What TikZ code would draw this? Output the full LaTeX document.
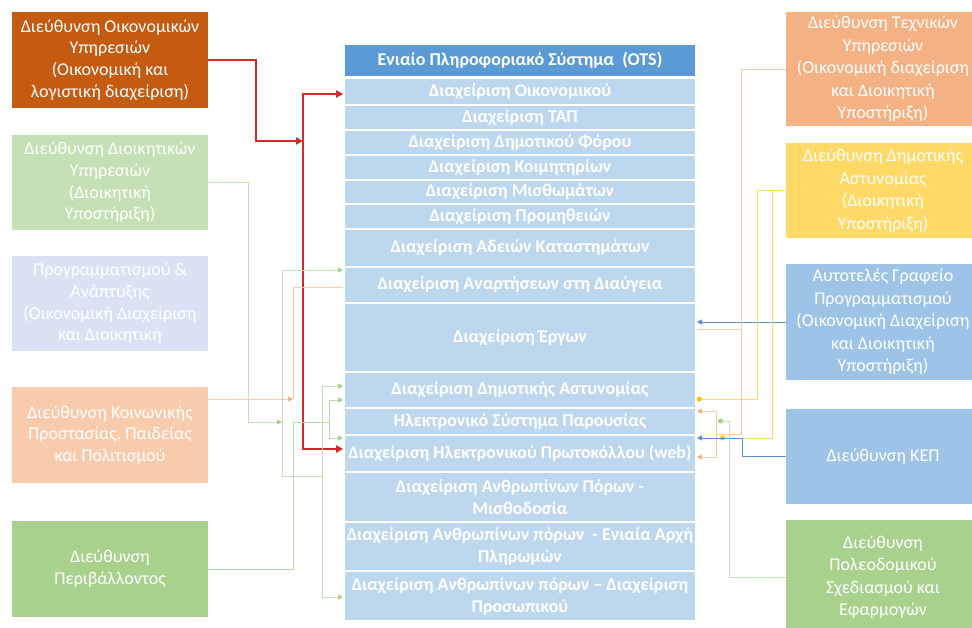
\documentclass[tikz,border=0pt]{standalone}
\usepackage{fontspec}
\setmainfont{Carlito}
\usetikzlibrary{arrows.meta,calc}
\definecolor{cDarkOr}{HTML}{C55A11}
\definecolor{cLGreen}{HTML}{C5E0B4}
\definecolor{cLBlue}{HTML}{DAE3F3}
\definecolor{cPeach}{HTML}{F8CBAD}
\definecolor{cGreen}{HTML}{A9D18E}
\definecolor{cHead}{HTML}{5B9BD5}
\definecolor{cRow}{HTML}{BDD7EE}
\definecolor{cOrange}{HTML}{F4B183}
\definecolor{cYellow}{HTML}{FFD966}
\definecolor{cBlue}{HTML}{9DC3E6}
\definecolor{cRed}{HTML}{D42A2A}
\definecolor{cBlueLn}{HTML}{5B8FD0}
\definecolor{cYellowLn}{HTML}{FFC000}
\definecolor{cPeachLn}{HTML}{F8CBAD}
\definecolor{cGrLn}{HTML}{C5E0B4}
\definecolor{cGrTip}{HTML}{A9D18E}
\tikzset{
  sbox/.style={text=white, align=center, inner sep=1pt, minimum width=196pt,
    font=\fontsize{18}{21.7}\selectfont},
  rbox/.style={text=white, align=center, inner sep=1pt, minimum width=194pt,
    font=\fontsize{18}{22.5}\selectfont},
  rowbox/.style={fill=cRow, draw=white, line width=1.6pt, text=white, align=center,
    minimum width=352pt, inner sep=0.5pt, font=\fontsize{18}{22}\selectfont\bfseries},
  smallrow/.style={font=\fontsize{17.8}{22}\selectfont\bfseries},
  redln/.style={draw=cRed, line width=1.8pt},
  redtip/.style={-{Triangle[length=7pt,width=7pt]}},
  grln/.style={draw=cGrLn, line width=1pt},
  grtip/.style={-{Triangle[length=5pt,width=5pt,color=cGrTip]}},
  peln/.style={draw=cPeachLn, line width=1pt},
  petip/.style={-{Triangle[length=5pt,width=5pt,color=cOrange]}},
  blln/.style={draw=cBlueLn, line width=1pt},
  bltip/.style={-{Triangle[length=5pt,width=5pt]}},
  yeln/.style={draw=cYellow, line width=1pt},
  yedot/.style={-{Circle[length=5pt,color=cYellowLn]}},
  grdot/.style={-{Circle[length=5pt,color=cGrTip]}},
}
\begin{document}
\begin{tikzpicture}[x=1pt,y=-1pt]
\clip (0,0) rectangle (972,627);
\useasboundingbox (0,0) rectangle (972,627);
\fill[white] (0,0) rectangle (972,627);

% left boxes
\node[sbox, fill=cDarkOr, minimum height=96pt] (L1) at (110,60)
  {Διεύθυνση Οικονομικών\\Υπηρεσιών\\(Οικονομική και\\λογιστική διαχείριση)};
\node[sbox, fill=cLGreen, minimum height=95pt] (L2) at (110,182.5)
  {Διεύθυνση Διοικητικών\\Υπηρεσιών\\(Διοικητική\\Υποστήριξη)};
\node[sbox, fill=cLBlue, minimum height=95pt] (L3) at (110,303.5)
  {Προγραμματισμού \&\\Ανάπτυξης\\(Οικονομική Διαχείριση\\και Διοικητική};
\node[sbox, fill=cPeach, minimum height=96pt] (L4) at (110,435)
  {Διεύθυνση Κοινωνικής\\Προστασίας, Παιδείας\\και Πολιτισμού};
\node[sbox, fill=cGreen, minimum height=96pt] (L5) at (110,569)
  {Διεύθυνση\\Περιβάλλοντος};

% right boxes
\node[rbox, fill=cOrange, minimum height=114pt] (RB1) at (883,69)
  {Διεύθυνση Τεχνικών\\Υπηρεσιών\\(Οικονομική διαχείριση\\και Διοικητική\\Υποστήριξη)};
\node[rbox, fill=cYellow, minimum height=95pt] (RB2) at (883,190.5)
  {Διεύθυνση Δημοτικής\\Αστυνομίας\\(Διοικητική\\Υποστήριξη)};
\node[rbox, fill=cBlue, minimum height=116pt] (RB3) at (883,322)
  {Αυτοτελές Γραφείο\\Προγραμματισμού\\(Οικονομική Διαχείριση\\και Διοικητική\\Υποστήριξη)};
\node[rbox, fill=cBlue, minimum height=95pt] (RB4) at (883,456.5)
  {Διεύθυνση ΚΕΠ};
\node[rbox, fill=cGreen, minimum height=114pt] (RB5) at (883,577)
  {Διεύθυνση\\Πολεοδομικού\\Σχεδιασμού και\\Εφαρμογών};

% central system
\node[rowbox, fill=cHead, minimum height=33pt] (R0) at (520,60.5) {Ενιαίο Πληροφοριακό Σύστημα\ \ (OTS)};
\node[rowbox, minimum height=27pt] (R1) at (520,91.5) {Διαχείριση Οικονομικού};
\node[rowbox, minimum height=25pt] (R2) at (520,117.5) {Διαχείριση ΤΑΠ};
\node[rowbox, minimum height=25pt] (R3) at (520,142.5) {Διαχείριση Δημοτικού Φόρου};
\node[rowbox, minimum height=25pt] (R4) at (520,167.5) {Διαχείριση Κοιμητηρίων};
\node[rowbox, minimum height=24pt] (R5) at (520,192) {Διαχείριση Μισθωμάτων};
\node[rowbox, minimum height=25pt] (R6) at (520,216.5) {Διαχείριση Προμηθειών};
\node[rowbox, minimum height=38pt] (R7) at (520,248) {Διαχείριση Αδειών Καταστημάτων};
\node[rowbox, minimum height=36pt] (R8) at (520,285) {Διαχείριση Αναρτήσεων στη Διαύγεια};
\node[rowbox, minimum height=69pt] (R9) at (520,337.5) {Διαχείριση Έργων};
\node[rowbox, minimum height=36pt] (R10) at (520,390) {Διαχείριση Δημοτικής Αστυνομίας};
\node[rowbox, minimum height=27pt] (R11) at (520,421.5) {Ηλεκτρονικό Σύστημα Παρουσίας};
\node[rowbox, smallrow, minimum height=37pt] (R12) at (520,453.5) {Διαχείριση Ηλεκτρονικού Πρωτοκόλλου (web)};
\node[rowbox, minimum height=50pt] (R13) at (520,497) {Διαχείριση Ανθρωπίνων Πόρων -\\Μισθοδοσία};
\node[rowbox, minimum height=49pt] (R14) at (520,546.5) {Διαχείριση Ανθρωπίνων πόρων\ \ - Ενιαία Αρχή\\Πληρωμών};
\node[rowbox, minimum height=50pt] (R15) at (520,596) {Διαχείριση Ανθρωπίνων πόρων – Διαχείριση\\Προσωπικού};

% ---- left connectors ----
\coordinate (r1) at (256,141);
\coordinate (jr) at (303,141);
\draw[redln, redtip] (L1.east) -| (r1) -- (jr);
\draw[redln, redtip] (jr) |- ([yshift=-2.5pt]R1.west);
\draw[redln, redtip] (jr) |- ([yshift=4.5pt]R12.west);

\coordinate (g0) at (248,422);
\coordinate (gA) at (282,422);
\coordinate (gB) at (322,476);
\draw[grln, grtip] (L2.east) -| (g0) -- (gA);
\draw[grln, grtip] (gA) |- ([yshift=15pt]R8.west);
\draw[grln] (gA) |- (gB);
\draw[grln, grtip] (gB) |- ([yshift=4pt]R10.west);
\draw[grln, grtip] (gB) |- ([yshift=-1pt]R15.west);

\coordinate (pj) at (293,399);
\draw[peln, petip] ([yshift=36pt]L4.east) -- (pj);
\draw[peln] (pj) |- ([yshift=-2pt]R8.west);

\coordinate (g5) at (293,422);
\coordinate (gC) at (329,422);
\draw[grln, draw=cGrTip!80!white] (L5.east) -| (g5) -- (gC);
\draw[grln, draw=cGrTip!80!white, grtip] (gC) |- ([yshift=-10pt]R10.west);
\draw[grln, draw=cGrTip!80!white, grtip] (gC) |- ([yshift=15.5pt]R12.west);

% ---- right connectors ----
\draw[blln, bltip] (RB3.west) -- (RB3.west -| R9.east);

\coordinate (oA) at (741,329);
\coordinate (oB) at (741,434);
\coordinate (oC) at (716,434);
\draw[peln] (RB1.west) -| (oB) -- (oC);
\draw[peln] (oA) -- (oA -| R9.east);
\draw[peln, petip] (oC) |- ([yshift=10.5pt]R11.east);
\draw[peln, petip] (oC) |- ([yshift=-3.5pt]R12.east);

\coordinate (y1) at (757,399);
\coordinate (yA) at (772,191);
\coordinate (yB) at (720,438);
\draw[yeln, yedot] (RB2.west) -| (y1) -- ([yshift=-9pt]R10.east);
\draw[yeln, yedot] (yA) |- (yB);

\coordinate (b1) at (742,438);
\draw[blln, bltip] (RB4.west) -| (b1) -- ([yshift=15.5pt]R12.east);

\coordinate (gr1) at (729,421);
\coordinate (gr2) at (718,421);
\draw[grln, grdot] (RB5.west) -| (gr1) -- (gr2);
\end{tikzpicture}
\end{document}
